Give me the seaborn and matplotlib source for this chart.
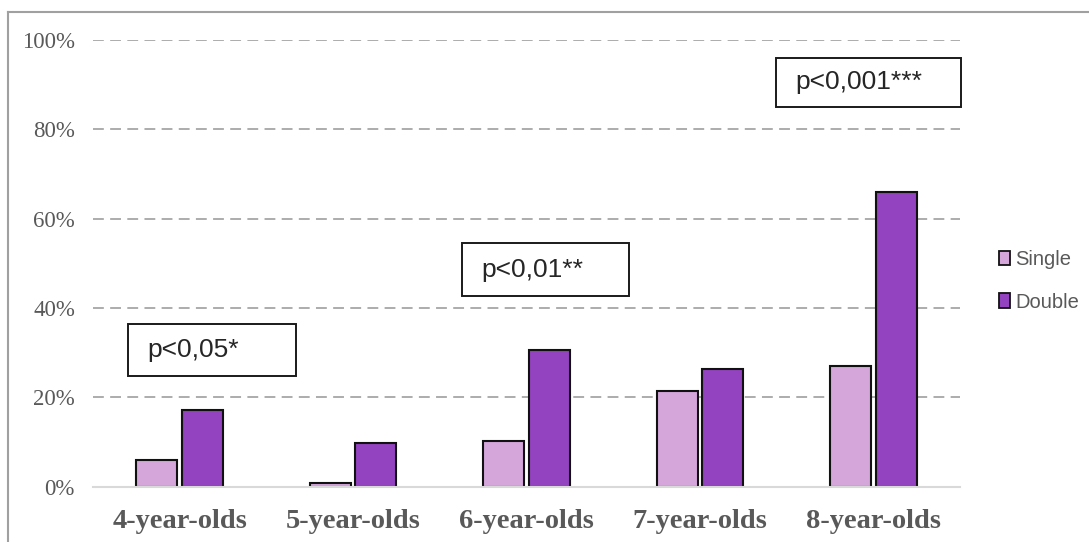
import matplotlib
matplotlib.use("Agg")
import matplotlib.pyplot as plt
from matplotlib.patches import Rectangle, Patch
from matplotlib.lines import Line2D
import seaborn as sns
import pandas as pd

# Share of children per age group, single vs double condition
age_groups = ["4-year-olds", "5-year-olds", "6-year-olds", "7-year-olds", "8-year-olds"]
single = [6.0, 0.8, 10.2, 21.4, 27.0]
double = [17.1, 9.8, 30.7, 26.4, 65.9]
series_names = ["Single", "Double"]
y_ticks = [0, 20, 40, 60, 80, 100]
p_labels = ["p<0,05*", "p<0,01**", "p<0,001***"]

colors = ["#D4A6DA", "#9343BF"]

df = pd.DataFrame({
    "age": age_groups * 2,
    "value": [v / 100 for v in single + double],
    "type": [series_names[0]] * len(single) + [series_names[1]] * len(double),
})

W, H = 1089, 542
fig = plt.figure(figsize=(W / 100, H / 100), dpi=100)
ax = fig.add_axes([93 / W, (H - 486.7) / H, (960 - 93) / W, (486.7 - 40) / H])

sns.barplot(data=df, x="age", y="value", hue="type", palette=colors,
            saturation=1, width=0.526, gap=0.1, edgecolor="#111111",
            linewidth=1.5, errorbar=None, legend=False, ax=ax)

ax.set_ylim(0, 1.0)
ax.set_xlim(-0.5, len(age_groups) - 0.5)
ax.set_yticks([t / 100 for t in y_ticks])
ax.set_yticklabels([f"{t}%" for t in y_ticks])
ax.set_xlabel("")
ax.set_ylabel("")

# dashed horizontal gridlines, solid light baseline
ax.set_axisbelow(True)
ax.yaxis.grid(True, color="#A6A6A6", linestyle=(0, (6, 3.5)), linewidth=1.3)
ax.xaxis.grid(False)
for sp in ["top", "right", "left"]:
    ax.spines[sp].set_visible(False)
ax.spines["bottom"].set_color("#D9D9D9")
ax.spines["bottom"].set_linewidth(1.5)
ax.spines["bottom"].set_zorder(5)
fig.canvas.draw()
ax.yaxis.get_gridlines()[0].set_visible(False)

ax.tick_params(axis="both", length=0)
ax.tick_params(axis="y", pad=13, colors="#595959")
ax.tick_params(axis="x", pad=16, colors="#595959")
for lab in ax.get_yticklabels():
    lab.set_fontfamily("Liberation Serif")
    lab.set_fontsize(16.5)
for lab in ax.get_xticklabels():
    lab.set_fontfamily("Liberation Serif")
    lab.set_fontweight("bold")
    lab.set_fontsize(20.5)

# significance boxes (axes-data coordinates: category units, fraction)
boxes = [
    (-0.298, 0.248, 0.969, 0.116),
    (1.628, 0.4266, 0.963, 0.118),
    (3.439, 0.8497, 1.067, 0.111),
]
text_pad = 0.11
for (x0, y0, w, h), txt in zip(boxes, p_labels):
    ax.add_patch(Rectangle((x0, y0), w, h, facecolor="white",
                           edgecolor="#1A1A1A", linewidth=1.4, zorder=6,
                           clip_on=False))
    ax.text(x0 + text_pad, y0 + h / 2, txt, ha="left", va="center",
            fontsize=19, family="Liberation Sans", color="#262626", zorder=7,
            clip_on=False)

# legend on the right
handles = [Patch(facecolor=c, edgecolor="#111111", linewidth=1.3) for c in colors]
fig.legend(handles, series_names, loc="center left",
           bbox_to_anchor=(999 / W, (H - 281) / H), frameon=False,
           prop={"family": "Liberation Sans", "size": 14.5},
           labelcolor="#595959", handlelength=0.55, handleheight=0.7,
           handletextpad=0.25, labelspacing=1.15, borderaxespad=0,
           borderpad=0)

# outer frame (top and left edges)
frame_kw = dict(color="#A0A0A0", linewidth=1.5, transform=fig.transFigure)
fig.add_artist(Line2D([8 / W, 1.0], [(H - 12) / H, (H - 12) / H], **frame_kw))
fig.add_artist(Line2D([8 / W, 8 / W], [(H - 12) / H, 0], **frame_kw))

fig.savefig("out.png", dpi=100, facecolor="white")
